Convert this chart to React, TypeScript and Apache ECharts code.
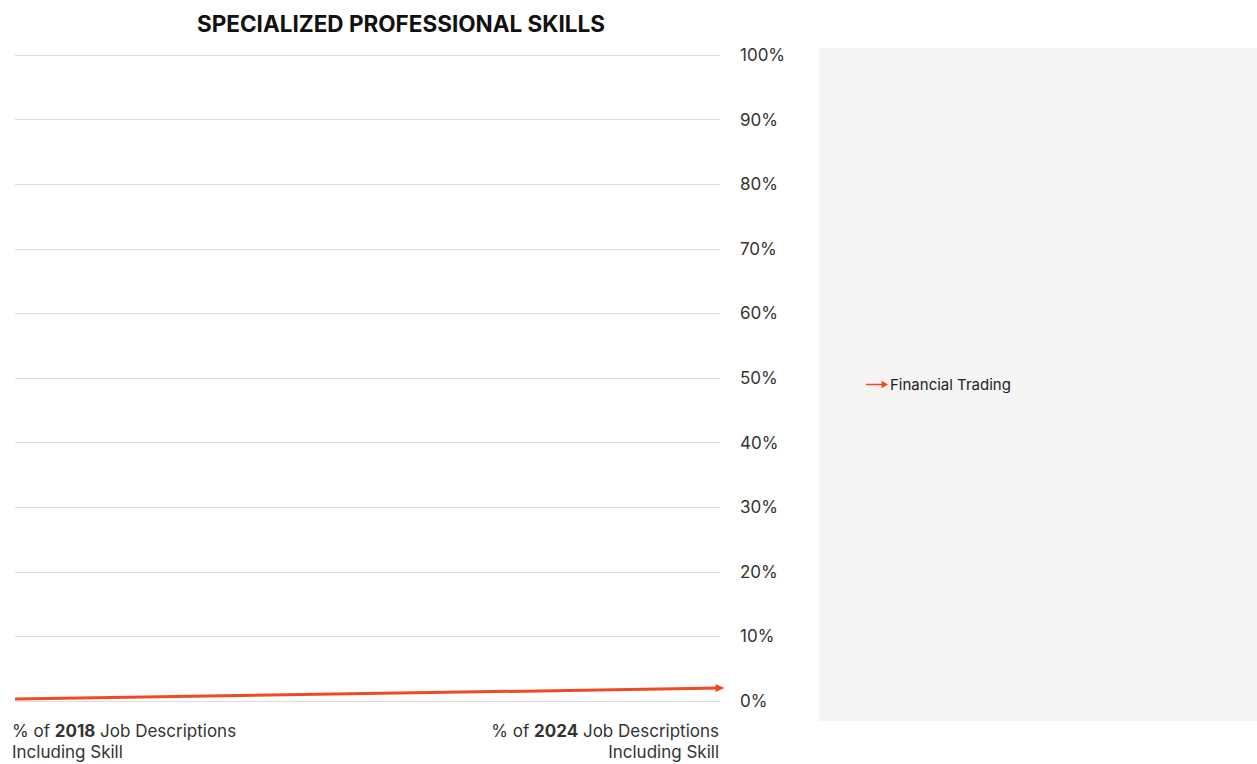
import React, { useEffect, useRef } from "react";
import * as echarts from "echarts";

const categories = ["2018", "2024"];
const seriesName = "Financial Trading";
const values = [0.3, 2.0];
const yTicks = [0, 10, 20, 30, 40, 50, 60, 70, 80, 90, 100];
const title = "SPECIALIZED PROFESSIONAL SKILLS";

const FONT = "Inter, 'Noto Sans', sans-serif";
const RED = "#f04a23";
const ARROW = "path://M0,3.2 L17,3.2 L17,0 L24,4 L17,8 L17,4.8 L0,4.8 Z";

export default function App() {
  const ref = useRef<HTMLDivElement>(null);
  useEffect(() => {
    if (!ref.current) return;
    const chart = echarts.init(ref.current, null, { renderer: "svg" });
    const data = values.map((v, i) =>
      i === values.length - 1
        ? { value: v, symbol: "triangle", symbolSize: [8, 9], symbolRotate: -90 }
        : { value: v, symbol: "none" }
    );
    const rich = { b: { fontWeight: "bold", fontSize: 17, fontFamily: FONT, fill: "#333" } };
    const lbl = (text: string, x: number, y: number, align: string) => ({
      type: "text",
      x,
      y,
      style: { text, font: "17px " + FONT, fill: "#333", align, verticalAlign: "middle", rich },
    });
    chart.setOption({
      animation: false,
      backgroundColor: "#ffffff",
      textStyle: { fontFamily: FONT },
      title: {
        text: title,
        left: 396,
        textAlign: "center",
        top: 7,
        textStyle: { fontFamily: FONT, fontWeight: "bold", fontSize: 22.5, color: "#111" },
      },
      graphic: [
        { type: "rect", left: 819, top: 48, shape: { width: 438, height: 673 }, style: { fill: "#f4f4f4" }, z: -10 },
        lbl("% of {b|" + categories[0] + "} Job Descriptions", 12, 731, "left"),
        lbl("Including Skill", 12, 752, "left"),
        lbl("% of {b|" + categories[1] + "} Job Descriptions", 719, 731, "right"),
        lbl("Including Skill", 719, 752, "right"),
      ],
      legend: {
        data: [seriesName],
        left: 866,
        top: 377,
        padding: 0,
        orient: "vertical",
        icon: ARROW,
        itemWidth: 22,
        itemHeight: 8,
        itemGap: 5,
        textStyle: { fontFamily: FONT, fontSize: 15, color: "#222", padding: [0, 0, 0, -3] },
      },
      grid: { left: 15, right: 1257 - 720, top: 55, bottom: 764 - 701 },
      xAxis: {
        type: "category",
        data: categories,
        boundaryGap: false,
        axisLine: { show: false },
        axisTick: { show: false },
        axisLabel: { show: false },
        splitLine: { show: false },
      },
      yAxis: {
        type: "value",
        position: "right",
        min: yTicks[0],
        max: yTicks[yTicks.length - 1],
        interval: 10,
        axisLine: { show: false },
        axisTick: { show: false },
        axisLabel: { formatter: "{value}%", margin: 20, fontSize: 17, color: "#333", fontFamily: FONT },
        splitLine: { lineStyle: { color: "#dcdcdc", width: 1 } },
      },
      series: [
        {
          name: seriesName,
          type: "line",
          data,
          lineStyle: { color: RED, width: 3 },
          itemStyle: { color: RED },
          showSymbol: true,
          legendIcon: ARROW,
        },
      ],
    });
    return () => chart.dispose();
  }, []);
  return (
    <div
      ref={ref}
      style={{ position: "fixed", left: 0, top: 0, width: 1257, height: 764 }}
    />
  );
}
